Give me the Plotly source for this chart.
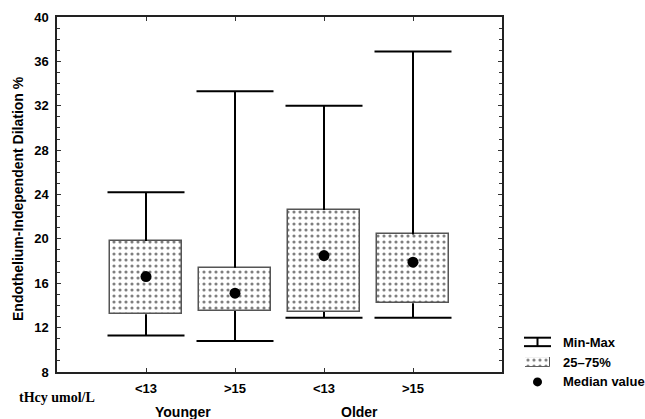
import plotly.graph_objects as go

# ---- data ----
categories = ["<13", ">15", "<13", ">15"]
groups = ["Younger", "Older"]
mins = [11.3, 10.8, 12.9, 12.9]
q1 = [13.2, 13.5, 13.4, 14.2]
medians = [16.6, 15.1, 18.5, 17.9]
q3 = [19.8, 17.4, 22.6, 20.4]
maxs = [24.2, 33.3, 32.0, 36.9]
legend_labels = ["Min-Max", "25\u201375%", "Median value"]

xs = list(range(len(categories)))

W, H = 645, 419
ML, MR, MT, MB = 57, 10, 15, 47
PW = W - ML - MR
PH = H - MT - MB
PLOT_RIGHT = 502


def px(x):
    return (x - ML) / PW


def py(y):
    return (H - MB - y) / PH


dots = dict(shape=".", fgcolor="black", bgcolor="white", size=6, solidity=0.22)

fig = go.Figure()

# IQR boxes
fig.add_trace(go.Bar(
    x=xs, y=[b - a for a, b in zip(q1, q3)], base=q1, width=0.8,
    marker=dict(color="white", line=dict(color="#555", width=1.5), pattern=dots),
    showlegend=False, hoverinfo="skip"))

# whiskers
wx, wy = [], []
for i in xs:
    wx += [i, i, None, i, i, None]
    wy += [q3[i], maxs[i], None, q1[i], mins[i], None]
fig.add_trace(go.Scatter(x=wx, y=wy, mode="lines",
                         line=dict(color="black", width=2),
                         showlegend=False, hoverinfo="skip"))

# caps
fig.add_trace(go.Scatter(x=xs + xs, y=mins + maxs, mode="markers",
                         marker=dict(symbol="line-ew", size=55,
                                     line=dict(color="black", width=2)),
                         showlegend=False, hoverinfo="skip"))

# medians
fig.add_trace(go.Scatter(x=xs, y=medians, mode="markers",
                         marker=dict(size=11, color="black"),
                         showlegend=False))

# legend swatch for 25-75%
fig.add_trace(go.Bar(
    x=[0], y=[1], width=1, xaxis="x2", yaxis="y2",
    marker=dict(color="white", line=dict(color="#555", width=1), pattern=dots),
    showlegend=False, hoverinfo="skip"))

font_b = dict(family="Liberation Sans, Arial", size=13, color="black", weight="bold")

fig.update_layout(
    width=W, height=H,
    margin=dict(l=ML, r=MR, t=MT, b=MB),
    paper_bgcolor="white", plot_bgcolor="white",
    showlegend=False,
    bargap=0,
    xaxis=dict(domain=[0, (PLOT_RIGHT - ML) / PW], range=[-1, 4],
               tickvals=xs, ticktext=categories,
               ticks="inside", ticklen=4, tickcolor="#333",
               showline=True, linecolor="#222", linewidth=1.5, mirror="ticks",
               showgrid=False, zeroline=False, tickfont=font_b,
               ticklabelstandoff=4),
    yaxis=dict(range=[8, 40], dtick=4, ticks="inside", ticklen=4, tickcolor="#333",
               minor=dict(dtick=1, ticks="inside", ticklen=3, tickcolor="#333"),
               showline=True, linecolor="#222", linewidth=1.5, mirror="ticks",
               showgrid=False, zeroline=False, tickfont=font_b,
               ticklabelstandoff=4),
    xaxis2=dict(domain=[px(525), px(550)], anchor="y2", range=[-0.5, 0.5],
                visible=False),
    yaxis2=dict(domain=[py(367), py(357)], anchor="x2", range=[0, 1],
                visible=False),
)

ann = []
ann.append(dict(text="Endothelium-Independent Dilation %", xref="paper", yref="paper",
                x=px(18), y=py(198), textangle=-90, showarrow=False,
                font=dict(family="Liberation Sans, Arial", size=14, color="black",
                          weight="bold"), xanchor="center", yanchor="middle"))
ann.append(dict(text="tHcy umol/L", xref="paper", yref="paper",
                x=px(17), y=py(398), showarrow=False, xanchor="left", yanchor="middle",
                font=dict(family="Liberation Serif, Times New Roman", size=14,
                          color="black", weight="bold")))
for g, gx in zip(groups, [0.42, 2.4]):
    ann.append(dict(text=g, xref="x", yref="paper", x=gx, y=py(412),
                    showarrow=False, xanchor="center", yanchor="middle",
                    font=dict(family="Liberation Sans, Arial", size=14,
                              color="black", weight="bold")))
for lab, ly in zip(legend_labels, [342, 362, 382]):
    ann.append(dict(text=lab, xref="paper", yref="paper", x=px(561), y=py(ly),
                    showarrow=False, xanchor="left", yanchor="middle", font=font_b))
fig.update_layout(annotations=ann)

shapes = [
    dict(type="line", xref="paper", yref="paper", x0=px(524), x1=px(551),
         y0=py(337.5), y1=py(337.5), line=dict(color="black", width=2)),
    dict(type="line", xref="paper", yref="paper", x0=px(524), x1=px(551),
         y0=py(346), y1=py(346), line=dict(color="black", width=2)),
    dict(type="line", xref="paper", yref="paper", x0=px(537.5), x1=px(537.5),
         y0=py(337.5), y1=py(346), line=dict(color="black", width=2)),
    dict(type="circle", xref="paper", yref="paper", x0=px(533), x1=px(542),
         y0=py(386.5), y1=py(377.5), fillcolor="black", line=dict(color="black", width=0)),
]
fig.update_layout(shapes=shapes)

fig.write_html("out.html", config={"displayModeBar": False},
               post_script="document.body.style.margin='0';document.body.style.padding='0';")
